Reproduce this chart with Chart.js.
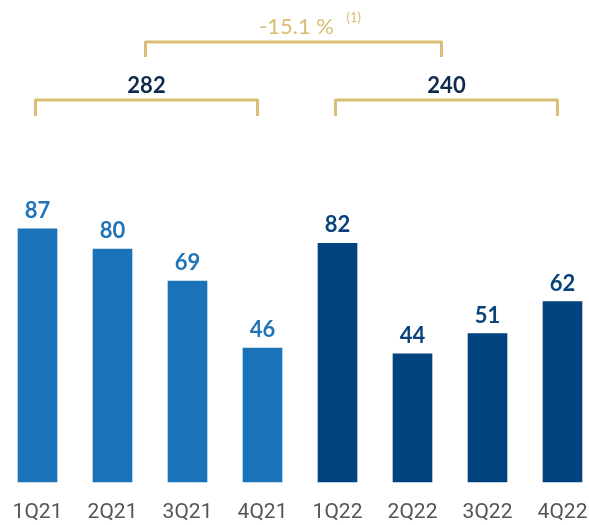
<!DOCTYPE html>
<html>
<head>
<meta charset="utf-8">
<script src="https://cdn.jsdelivr.net/npm/chart.js@4"></script>
<style>
  html, body { margin: 0; padding: 0; background: #fff; }
  #wrap { width: 589px; height: 525px; position: relative; }
</style>
</head>
<body>
<div id="wrap"><canvas id="myChart"></canvas></div>
<script>
const quarters = ["1Q21", "2Q21", "3Q21", "4Q21", "1Q22", "2Q22", "3Q22", "4Q22"];
const values = [87, 80, 69, 46, 82, 44, 51, 62];
const barColors = ["#1a73b9", "#1a73b9", "#1a73b9", "#1a73b9", "#00437f", "#00437f", "#00437f", "#00437f"];
const labelColors = ["#1f74b9", "#1f74b9", "#1f74b9", "#1f74b9", "#08427c", "#08427c", "#08427c", "#08427c"];
// yearly totals and the year-on-year change shown over the brackets
const yearTotals = ["282", "240"];
const yearRanges = [[0, 3], [4, 7]];
const changeText = "-15.1 %";
const changeNote = "(1)";

const gold = "#d9bd72";
const navy = "#0e2a4f";

// value labels above each bar
const barLabels = {
  id: "barLabels",
  afterDatasetsDraw(chart) {
    const ctx = chart.ctx;
    const meta = chart.getDatasetMeta(0);
    ctx.save();
    ctx.font = "bold 22px Lato";
    ctx.textAlign = "center";
    ctx.textBaseline = "middle";
    meta.data.forEach((bar, i) => {
      ctx.fillStyle = labelColors[i];
      ctx.fillText(values[i], bar.x, bar.y - 18);
    });
    ctx.restore();
  }
};

// brackets with yearly totals and the change between them
const brackets = {
  id: "brackets",
  afterDraw(chart) {
    const ctx = chart.ctx;
    const x = chart.scales.x;
    const top = chart.chartArea.top;
    const drawBracket = (x1, x2, y, h) => {
      ctx.beginPath();
      ctx.moveTo(x1, y + h);
      ctx.lineTo(x1, y);
      ctx.lineTo(x2, y);
      ctx.lineTo(x2, y + h);
      ctx.stroke();
    };
    ctx.save();
    ctx.strokeStyle = gold;
    ctx.lineWidth = 3;
    ctx.lineJoin = "round";
    const mids = [];
    yearRanges.forEach((r, i) => {
      const x1 = x.getPixelForValue(r[0]) - 2;
      const x2 = x.getPixelForValue(r[1]) - 5;
      drawBracket(x1, x2, top + 100, 16);
      const mid = (x1 + x2) / 2;
      mids.push(mid);
      ctx.fillStyle = navy;
      ctx.font = "bold 22px Lato";
      ctx.textAlign = "center";
      ctx.textBaseline = "middle";
      ctx.fillText(yearTotals[i], mid, top + 86);
    });
    drawBracket(mids[0] - 1, mids[1] - 5, top + 42, 15);
    ctx.fillStyle = gold;
    ctx.font = "22px Lato";
    ctx.textAlign = "center";
    ctx.textBaseline = "middle";
    const cx = (mids[0] + mids[1]) / 2;
    ctx.fillText(changeText, cx, top + 27);
    ctx.font = "13px Lato";
    ctx.textAlign = "left";
    ctx.fillText(changeNote, cx + 50, top + 18);
    ctx.restore();
  }
};

const ctx = document.getElementById("myChart");
const myChart = new Chart(ctx, {
  type: "bar",
  data: {
    labels: quarters,
    datasets: [{
      data: values,
      backgroundColor: barColors,
      barThickness: 39,
      clip: false
    }]
  },
  options: {
    responsive: true,
    maintainAspectRatio: false,
    devicePixelRatio: 1,
    animation: false,
    layout: { padding: { left: 37.5, right: 26.5, top: 0, bottom: 0 } },
    plugins: { legend: { display: false }, tooltip: { enabled: false } },
    scales: {
      x: {
        offset: false,
        grid: { display: false },
        border: { display: false },
        ticks: {
          color: "#555555",
          font: { family: "Roboto", size: 21 },
          padding: 10,
          maxRotation: 0,
          autoSkip: false
        },
        afterFit(scale) {
          // fixed axis band below the bars
          scale.height = 43;
          scale.paddingLeft = 0;
          scale.paddingRight = 0;
        }
      },
      y: {
        display: false,
        min: 0,
        max: 165.6
      }
    }
  },
  plugins: [barLabels, brackets]
});
</script>
</body>
</html>
